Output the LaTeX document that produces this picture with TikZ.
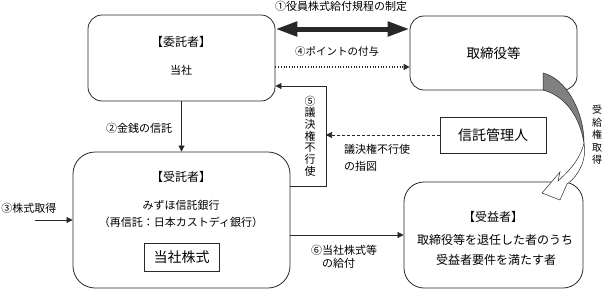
\documentclass[tikz,border=0pt]{standalone}
\usepackage{fontspec}
\setmainfont{Noto Sans CJK JP}
\usepackage{tikz}
\usetikzlibrary{calc,positioning,arrows.meta}
\usepackage{xcolor}
\definecolor{linec}{RGB}{40,40,40}
\definecolor{twistc}{RGB}{128,128,128}
\tikzset{
  party/.style={rectangle,draw=linec,line width=0.8pt,rounded corners=14pt,inner sep=0pt},
  plain/.style={rectangle,draw=linec,line width=0.8pt,inner sep=0pt},
  txt/.style={inner sep=0pt,font=\fontsize{11}{13}\selectfont},
  big/.style={inner sep=0pt,font=\fontsize{12}{14}\selectfont},
  flow/.style={-{Triangle[length=6pt,width=6pt]},line width=0.7pt,linec},
  vtxt/.style={inner sep=0pt,align=center},
}

\begin{document}
\begin{tikzpicture}[x=1pt,y=-1pt]
  \useasboundingbox (0,0) rectangle (604,290);
  % parties
  \node[party,minimum width=187pt,minimum height=86pt](wt) at (181.5,58){};
  \node[party,minimum width=167pt,minimum height=74pt,font=\fontsize{13.5}{15}\selectfont](tr) at (493.5,53){取締役等};
  \node[plain,minimum width=106pt,minimum height=36pt,font=\fontsize{14}{16}\selectfont](kn) at (493,135){信託管理人};
  \node[party,rounded corners=22pt,minimum width=217pt,minimum height=136pt](jt) at (181.5,220){};
  \node[plain,minimum width=75pt,minimum height=28pt,font=\fontsize{14}{16}\selectfont](kb) at (181.5,257){当社株式};
  \node[party,rounded corners=20pt,minimum width=179pt,minimum height=106pt](jb) at (493.5,235){};
  % texts in the boxes
  \node[big](wtT) at (181,42){【委託者】};
  \node[txt](wtS) at (181,70){当社};
  \node[big](jtT) at (181,177){【受託者】};
  \node[txt](jtS) at (181,205){みずほ信託銀行};
  \node[txt](jtR) at (181,222){（再信託：日本カストディ銀行）};
  \node[big](jbT) at (493,217){【受益者】};
  \node[big](jbS) at (495,240){取締役等を退任した者のうち};
  \node[big](jbR) at (496,260){受益者要件を満たす者};
  % helper points
  \coordinate (c1) at (343,29);
  \coordinate (c4) at (343,67);
  \coordinate (c5t) at (326,86);
  \coordinate (c5b) at (326,186);
  \coordinate (c3) at (35,220);
  % connectors
  \draw[line width=5pt,linec,{Triangle[length=22pt,width=14pt]}-{Triangle[length=22pt,width=14pt]}] (c1 -| wt.east) -- (c1 -| tr.west);
  \draw[flow,dotted,line width=1.2pt] (c4 -| wt.east) -- (c4 -| tr.west);
  \draw[flow] (c5b -| jt.east) -- (c5b) -- (c5t) -- (c5t -| wt.east);
  \draw[flow,dash pattern=on 3pt off 2pt] (kn.west) -- (kn.west -| c5t);
  \draw[flow] (wt.south) -- (jt.north);
  \draw[flow] (c3) -- (jt.west);
  \draw[flow] (jt.east |- jb.west) -- (jb.west);
  % twisted arrow
  \filldraw[fill=twistc,draw=linec,line width=0.5pt] (543,73) .. controls (565,78) and (584,110) .. (584,143)
    .. controls (580,118) and (566,96) .. (543,90) -- cycle;
  \filldraw[fill=white,draw=linec,line width=0.5pt] (584,143) .. controls (587,158) and (580,175) .. (567,184)
    -- (560,200) -- (542,193) -- (560,172) -- (558,181) .. controls (568,172) and (580,160) .. (584,143) -- cycle;
  % labels
  \node[txt](l1) at (341,6){①役員株式給付規程の制定};
  \node[txt,font=\fontsize{10.5}{12}\selectfont](l4) at (337,51){④ポイントの付与};
  \node[txt](l2) at (139,128){②金銭の信託};
  \node[txt](l3) at (29,208){③株式取得};
  \node[vtxt,font=\fontsize{11}{11.7}\selectfont](l5) at (310,136){⑤\\議\\決\\権\\不\\行\\使};
  \node[txt,align=left,font=\fontsize{11}{17}\selectfont,anchor=west](lk) at (344,158){議決権不行使\\の指図};
  \node[txt,align=left,anchor=west](l6) at (311,257){⑥当社株式等\\　の給付};
  \node[vtxt,font=\fontsize{10}{12.5}\selectfont](lr) at (597,135){受\\給\\権\\取\\得};
\end{tikzpicture}
\end{document}
